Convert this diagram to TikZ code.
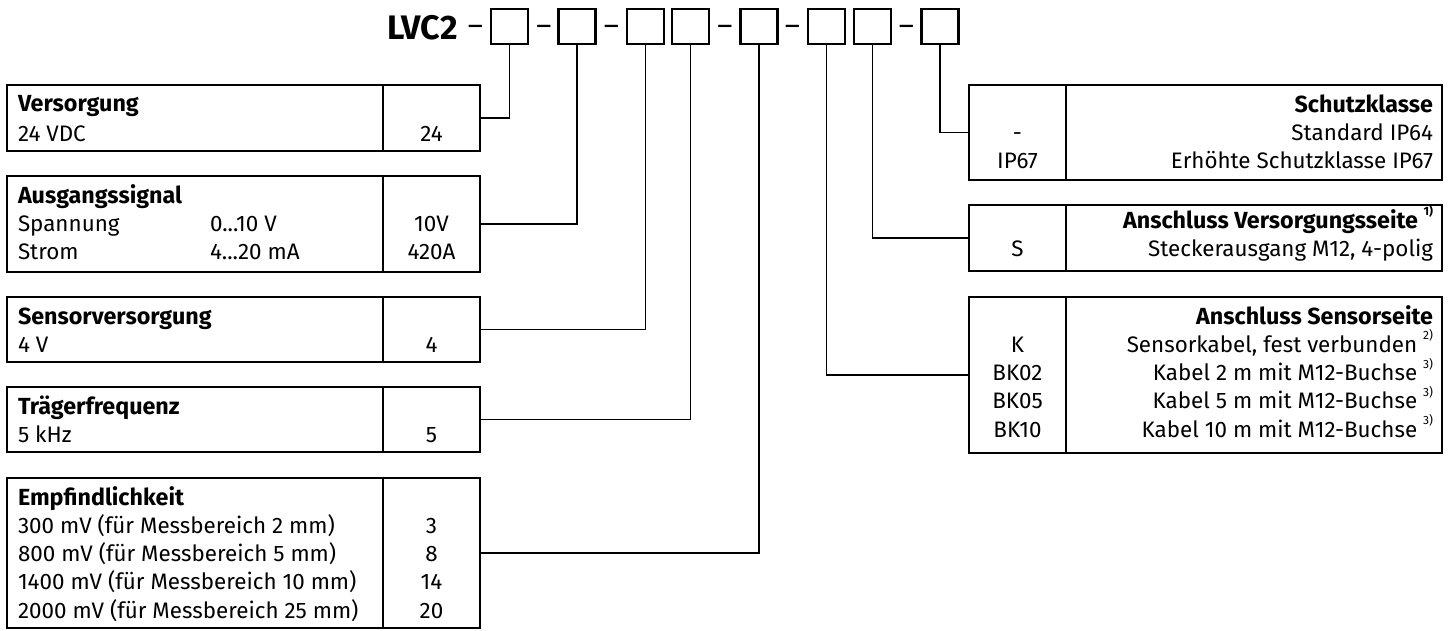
\documentclass[tikz,border=0pt]{standalone}
\usepackage{fontspec}
\setmainfont{Fira Sans}
\newcommand\supx[1]{\raisebox{0.55em}{\fontsize{12}{12}\selectfont #1}}
\begin{document}
\begin{tikzpicture}[x=1pt,y=-1pt,
  cell/.style={draw, line width=2.1pt, rectangle, inner sep=0pt, outer sep=0pt, anchor=north west},
  divider/.style={line width=2.7pt},
  conn/.style={line width=1.8pt},
  pbox/.style={draw, line width=2.1pt, rectangle, minimum width=37pt, minimum height=35pt, inner sep=0pt, outer sep=0pt},
  txt/.style={inner sep=0pt, outer sep=0pt, font=\fontsize{22.4}{26}\selectfont},
  hd/.style={inner sep=0pt, outer sep=0pt, font=\fontsize{23.3}{26}\selectfont\bfseries},
  lt/.style={txt, anchor=base west},
  ct/.style={txt, anchor=base},
  rt/.style={txt, anchor=base east},
  dashtxt/.style={inner sep=0pt, outer sep=0pt, anchor=base, font=\fontsize{29}{30}\selectfont}
]
\useasboundingbox (0,0) rectangle (1454,630);

% ---- title ----
\node[inner sep=0pt, outer sep=0pt, anchor=base east, font=\fontsize{34}{36}\selectfont\bfseries] (title) at (458,39) {LVC2};
\node[pbox] (b1) at (509.5,26.5) {};
\node[pbox] (b2) at (577,26.5) {};
\node[pbox] (b3) at (645.5,26.5) {};
\node[pbox] (b4) at (690.5,26.5) {};
\node[pbox] (b5) at (759,26.5) {};
\node[pbox] (b6) at (826.5,26.5) {};
\node[pbox] (b7) at (872.5,26.5) {};
\node[pbox] (b8) at (940,26.5) {};
\node[dashtxt] (d1) at (475.5,35) {–};
\node[dashtxt] (d2) at (544,35) {–};
\node[dashtxt] (d3) at (611.5,35) {–};
\node[dashtxt] (d4) at (725,35) {–};
\node[dashtxt] (d5) at (792.5,35) {–};
\node[dashtxt] (d6) at (906.5,35) {–};

% ---- left tables ----
% Versorgung
\node[cell, minimum width=376pt, minimum height=66pt] (t1L) at (7,85) {};
\node[cell, minimum width=97pt, minimum height=66pt] (t1V) at (383,85) {};
\draw[divider] (t1V.north west) -- (t1V.south west);
\node[hd, anchor=base west] (t1h) at (18,111) {Versorgung};
\node[lt] (t1a) at (18,141) {24 VDC};
\node[ct] (t1va) at (431.5,141) {24};

% Ausgangssignal
\node[cell, minimum width=376pt, minimum height=96pt] (t2L) at (7,176) {};
\node[cell, minimum width=97pt, minimum height=96pt] (t2V) at (383,176) {};
\draw[divider] (t2V.north west) -- (t2V.south west);
\node[hd, anchor=base west] (t2h) at (18,203) {Ausgangssignal};
\node[lt] (t2a) at (18,231.5) {Spannung};
\node[lt] (t2b) at (210,231.5) {0...10 V};
\node[lt] (t2c) at (18,259.8) {Strom};
\node[lt] (t2d) at (210,259.8) {4...20 mA};
\node[ct] (t2va) at (431.5,231.5) {10V};
\node[ct] (t2vb) at (431.5,259.8) {420A};

% Sensorversorgung
\node[cell, minimum width=376pt, minimum height=65pt] (t3L) at (7,297) {};
\node[cell, minimum width=97pt, minimum height=65pt] (t3V) at (383,297) {};
\draw[divider] (t3V.north west) -- (t3V.south west);
\node[hd, anchor=base west] (t3h) at (18,324) {Sensorversorgung};
\node[lt] (t3a) at (18,352.3) {4 V};
\node[ct] (t3va) at (431.5,352.3) {4};

% Traegerfrequenz
\node[cell, minimum width=376pt, minimum height=65pt] (t4L) at (7,387) {};
\node[cell, minimum width=97pt, minimum height=65pt] (t4V) at (383,387) {};
\draw[divider] (t4V.north west) -- (t4V.south west);
\node[hd, anchor=base west] (t4h) at (18,414) {Trägerfrequenz};
\node[lt] (t4a) at (18,442.3) {5 kHz};
\node[ct] (t4va) at (431.5,442.3) {5};

% Empfindlichkeit
\node[cell, minimum width=376pt, minimum height=150pt] (t5L) at (7,478) {};
\node[cell, minimum width=97pt, minimum height=150pt] (t5V) at (383,478) {};
\draw[divider] (t5V.north west) -- (t5V.south west);
\node[hd, anchor=base west] (t5h) at (18,505) {Empfindlichkeit};
\node[lt] (t5a) at (18,533.3) {300 mV (für Messbereich 2 mm)};
\node[lt] (t5b) at (18,561.6) {800 mV (für Messbereich 5 mm)};
\node[lt] (t5c) at (18,589.9) {1400 mV (für Messbereich 10 mm)};
\node[lt] (t5d) at (18,618.2) {2000 mV (für Messbereich 25 mm)};
\node[ct] (t5va) at (431.5,533.3) {3};
\node[ct] (t5vb) at (431.5,561.6) {8};
\node[ct] (t5vc) at (431.5,589.9) {14};
\node[ct] (t5vd) at (431.5,618.2) {20};

% ---- right tables ----
% Schutzklasse
\node[cell, minimum width=97pt, minimum height=95pt] (r1L) at (969,85) {};
\node[cell, minimum width=376pt, minimum height=95pt] (r1R) at (1066,85) {};
\draw[divider] (r1R.north west) -- (r1R.south west);
\node[hd, anchor=base east] (r1h) at (1433,112) {Schutzklasse};
\node[ct] (r1a) at (1017.5,140.3) {-};
\node[rt] (r1b) at (1433,140.3) {Standard IP64};
\node[ct] (r1c) at (1017.5,168.6) {IP67};
\node[rt] (r1d) at (1433,168.6) {Erhöhte Schutzklasse IP67};

% Anschluss Versorgungsseite
\node[cell, minimum width=97pt, minimum height=66pt] (r2L) at (969,205) {};
\node[cell, minimum width=376pt, minimum height=66pt] (r2R) at (1066,205) {};
\draw[divider] (r2R.north west) -- (r2R.south west);
\node[hd, anchor=base east] (r2h) at (1433,228) {Anschluss Versorgungsseite \supx{1)}};
\node[ct] (r2a) at (1017.5,256) {S};
\node[rt] (r2b) at (1433,256) {Steckerausgang M12, 4-polig};

% Anschluss Sensorseite
\node[cell, minimum width=97pt, minimum height=156pt] (r3L) at (969,297) {};
\node[cell, minimum width=376pt, minimum height=156pt] (r3R) at (1066,297) {};
\draw[divider] (r3R.north west) -- (r3R.south west);
\node[hd, anchor=base east] (r3h) at (1433,324) {Anschluss Sensorseite};
\node[ct] (r3a) at (1017.5,352.3) {K};
\node[rt] (r3b) at (1433,352.3) {Sensorkabel, fest verbunden \supx{2)}};
\node[ct] (r3c) at (1017.5,380.6) {BK02};
\node[rt] (r3d) at (1433,380.6) {Kabel 2 m mit M12-Buchse \supx{3)}};
\node[ct] (r3e) at (1017.5,408.9) {BK05};
\node[rt] (r3f) at (1433,408.9) {Kabel 5 m mit M12-Buchse \supx{3)}};
\node[ct] (r3g) at (1017.5,437.2) {BK10};
\node[rt] (r3h2) at (1433,437.2) {Kabel 10 m mit M12-Buchse \supx{3)}};

% ---- connectors ----
\draw[conn] (b1.south) |- (t1V.east);
\draw[conn] (b2.south) |- (t2V.east);
\draw[conn] (b3.south) |- (t3V.east);
\draw[conn] (b4.south) |- (t4V.east);
\draw[conn] (b5.south) |- (t5V.east);
\draw[conn] (b6.south) |- (r3L.west);
\draw[conn] (b7.south) |- (r2L.west);
\draw[conn] (b8.south) |- (r1L.west);
\end{tikzpicture}
\end{document}
